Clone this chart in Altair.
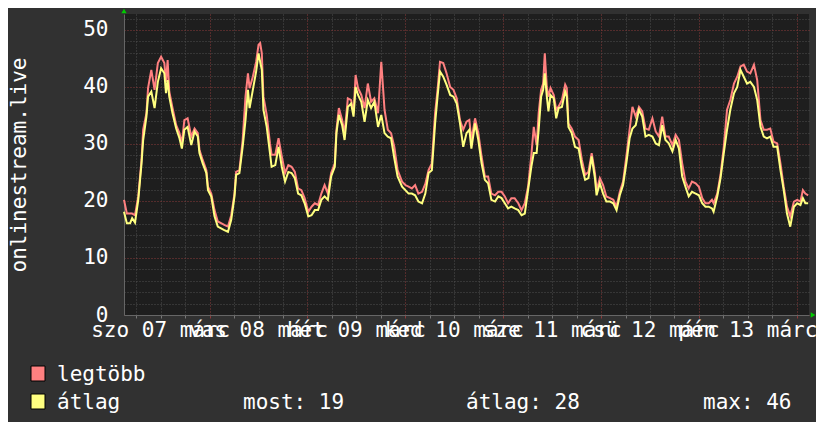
import altair as alt
import pandas as pd

# ---- data (hours since sat 07 márc 03:00) ----
hours = [0.0, 0.7, 1.5, 2.0, 2.7, 3.5, 4.3, 4.7, 5.5, 5.9, 6.7, 7.5, 8.3, 9.1, 9.9, 10.3, 10.7, 11.1,
         11.9, 12.8, 13.6, 14.2, 14.8, 15.6, 16.5, 17.3, 18.1, 18.5, 19.3, 20.2, 20.6, 21.4, 22.2, 23.0,
         23.8, 24.6, 25.5, 26.3, 27.1, 27.5, 28.3, 29.1, 29.8, 30.4, 30.8, 31.6, 32.4, 33.0, 33.4, 33.8,
         34.2, 35.0, 35.8, 36.2, 37.1, 37.9, 38.7, 39.5, 40.3, 41.1, 41.9, 42.7, 43.5, 44.3, 45.2, 46.0,
         46.8, 47.6, 48.4, 49.2, 50.0, 50.8, 51.7, 52.1, 52.7, 53.5, 54.1, 54.9, 55.7, 56.3, 56.8, 57.4,
         58.2, 59.0, 59.8, 60.6, 61.4, 62.3, 63.1, 63.9, 64.7, 65.5, 66.3, 67.1, 68.2, 69.0, 69.8, 70.6,
         71.4, 72.2, 73.1, 73.9, 74.7, 75.5, 76.3, 76.9, 77.5, 78.3, 79.1, 80.0, 80.8, 81.6, 82.4, 83.2,
         84.0, 84.7, 85.2, 86.1, 86.9, 87.7, 88.5, 89.3, 90.1, 91.0, 91.8, 92.6, 93.4, 94.2, 95.0, 95.8,
         96.7, 97.5, 98.3, 99.1, 99.9, 100.5, 101.2, 101.7, 102.3, 102.8, 103.2, 103.7, 104.1, 104.6,
         105.4, 106.0, 106.6, 107.4, 108.2, 108.6, 109.0, 109.8, 110.6, 111.5, 112.3, 113.1, 113.9,
         114.7, 115.5, 115.9, 116.7, 117.5, 118.3, 119.2, 120.0, 120.8, 121.6, 122.4, 123.2, 124.0,
         124.7, 125.5, 126.3, 127.1, 127.9, 128.7, 129.6, 130.4, 131.2, 132.0, 132.8, 133.6, 134.5,
         135.3, 136.1, 136.9, 137.7, 138.5, 139.3, 140.2, 141.0, 141.8, 142.6, 143.4, 144.2, 144.6,
         145.5, 146.3, 147.1, 147.9, 148.7, 149.6, 150.4, 151.2, 152.0, 152.8, 153.6, 154.5, 155.3,
         156.1, 156.9, 157.7, 158.5, 159.3, 160.2, 161.0, 161.8, 162.6, 163.4, 164.3, 165.1, 165.9,
         166.5, 167.1, 167.8]

atlag = [18.1, 16.1, 16.1, 17.0, 16.2, 20.2, 26.6, 30.7, 34.8, 38.3, 39.2, 36.3, 40.9, 43.3, 42.4, 38.9,
         41.2, 38.3, 35.4, 32.7, 31.0, 29.2, 32.5, 33.0, 29.8, 32.2, 31.3, 28.4, 26.6, 24.9, 21.9, 20.8,
         17.3, 15.5, 15.2, 14.9, 14.6, 16.7, 20.8, 24.6, 24.9, 29.5, 34.2, 39.5, 36.3, 39.5, 42.7, 45.9,
         44.4, 43.0, 36.0, 33.0, 28.4, 26.0, 26.3, 29.5, 26.0, 23.4, 25.1, 24.9, 24.0, 21.3, 21.0, 19.6,
         17.3, 17.5, 18.4, 18.4, 20.2, 20.8, 20.2, 24.3, 26.0, 31.9, 35.1, 33.3, 30.7, 36.5, 37.1, 34.8,
         40.0, 38.6, 37.4, 33.9, 37.7, 36.3, 37.4, 33.0, 35.1, 31.9, 31.3, 31.0, 27.5, 24.3, 22.5, 21.9,
         21.3, 21.3, 21.0, 19.9, 19.6, 21.3, 24.9, 25.4, 33.6, 38.3, 42.7, 41.8, 40.4, 38.6, 38.3, 37.1,
         33.6, 29.5, 31.9, 32.5, 29.2, 33.6, 30.7, 26.6, 23.7, 23.1, 20.2, 19.9, 20.8, 20.5, 19.6, 18.7,
         19.0, 18.7, 18.4, 17.5, 17.8, 21.9, 26.0, 28.4, 28.4, 32.5, 38.3, 39.5, 42.4, 38.3, 35.7, 38.6,
         38.0, 34.5, 36.3, 36.5, 39.2, 38.3, 33.0, 31.9, 29.5, 29.2, 26.0, 23.7, 24.0, 27.8, 24.0, 21.0,
         23.1, 21.3, 19.9, 19.9, 19.6, 18.4, 21.0, 22.8, 26.6, 31.0, 32.7, 33.3, 36.0, 34.8, 31.3, 31.6,
         31.3, 30.1, 29.8, 33.3, 30.7, 30.1, 28.7, 30.7, 29.2, 24.3, 22.5, 20.8, 21.6, 21.3, 21.0, 19.6,
         19.0, 19.0, 18.7, 18.1, 20.8, 24.0, 28.4, 32.5, 36.0, 38.9, 40.0, 43.0, 41.8, 40.6, 40.9, 40.0,
         37.7, 33.0, 31.3, 31.0, 31.3, 29.5, 29.5, 25.4, 21.9, 17.8, 15.5, 19.0, 19.6, 19.3, 20.5, 19.6,
         19.6]

legtobb = [20.2, 17.8, 17.8, 17.8, 17.5, 20.8, 27.2, 32.5, 35.4, 39.8, 43.0, 39.5, 44.2, 45.3, 44.2, 40.9,
           44.7, 39.2, 36.3, 33.3, 31.9, 30.1, 34.2, 34.5, 31.3, 32.7, 31.9, 29.0, 27.2, 25.4, 22.5, 21.3,
           18.4, 16.4, 16.1, 15.8, 15.5, 17.5, 21.3, 25.1, 25.4, 30.7, 38.3, 42.4, 39.8, 41.8, 44.4, 47.4,
           47.7, 45.9, 38.3, 35.1, 30.1, 28.1, 28.1, 31.0, 27.8, 24.9, 26.3, 26.0, 25.1, 22.2, 21.9, 20.5,
           18.1, 19.0, 19.6, 19.3, 21.3, 22.8, 21.3, 24.9, 26.6, 32.5, 36.3, 34.2, 31.9, 38.0, 37.7, 35.4,
           42.1, 39.8, 38.6, 36.3, 40.6, 37.4, 38.0, 35.4, 44.4, 36.0, 32.5, 31.9, 29.5, 25.4, 23.4, 22.8,
           22.5, 22.2, 22.8, 21.3, 21.6, 23.0, 25.4, 26.6, 35.4, 39.5, 44.4, 44.2, 42.4, 40.0, 39.5, 38.0,
           34.2, 32.5, 33.9, 34.2, 30.7, 34.5, 31.9, 27.8, 24.3, 24.3, 21.3, 21.0, 21.6, 21.6, 20.8, 19.6,
           20.5, 20.5, 19.6, 18.4, 19.6, 22.5, 28.0, 33.0, 29.8, 35.4, 39.5, 40.6, 45.9, 40.0, 38.3, 39.8,
           38.6, 36.0, 36.6, 37.7, 40.4, 39.8, 33.6, 32.7, 31.3, 30.7, 27.2, 24.6, 25.1, 28.4, 24.9, 21.9,
           24.0, 22.8, 20.8, 20.5, 20.2, 19.0, 21.6, 23.4, 27.8, 32.5, 36.5, 34.8, 36.5, 35.7, 32.7, 32.5,
           34.5, 32.2, 31.3, 34.8, 31.3, 31.3, 29.8, 31.6, 30.7, 26.6, 23.4, 22.2, 23.4, 23.1, 22.5, 20.5,
           19.6, 19.6, 20.2, 19.6, 21.3, 24.6, 29.5, 36.0, 37.7, 40.6, 41.8, 43.6, 43.9, 42.7, 42.4, 43.9,
           41.2, 34.2, 32.5, 32.5, 32.7, 30.4, 30.1, 26.6, 22.5, 19.0, 17.3, 19.9, 20.2, 19.9, 21.9, 21.3,
           21.0]

day_label_hours = [9, 33, 57, 81, 105, 129, 153]
day_labels = ["szo 07 márc", "vas 08 márc", "hét 09 márc", "ked 10 márc",
              "sze 11 márc", "csü 12 márc", "pén 13 márc"]
legend_names = ["legtöbb", "átlag"]
legend_colors = ["#ff8080", "#ffff80"]
stat_labels = ["most: 19", "átlag: 28", "max: 46"]
y_title = "onlinestream.live"

# ---- layout / style ----
W, H = 685, 301
FONT = "DejaVu Sans Mono"
FS = 21
TXT = "#ffffff"
MAJOR = "#8a3b3b"
MINOR = "#4f4f4f"

df = pd.DataFrame({"h": hours, "atlag": atlag, "legtobb": legtobb})
one = alt.Data(values=[{"k": 0}])

xs = alt.Scale(domain=[0, 168], nice=False, zero=False)
ys = alt.Scale(domain=[0, 52.8], nice=False, zero=False)

x_axis = alt.Axis(
    values=list(range(3, 168, 6)), labels=False, title=None,
    grid=True, gridDash=[1, 2], gridWidth=1,
    gridColor={"condition": {"test": "datum.value % 24 == 21", "value": MAJOR}, "value": MINOR},
    ticks=True, tickSize=3,
    tickColor={"condition": {"test": "datum.value % 24 == 21", "value": MAJOR}, "value": "#777777"},
    domainColor="#666666", domainWidth=1,
)
y_axis = alt.Axis(
    values=list(range(0, 53, 2)),
    labelExpr="datum.value % 10 == 0 ? datum.value : ''",
    labelFont=FONT, labelFontSize=FS, labelColor=TXT, labelPadding=16,
    ticks=False, domainColor="#666666",
    grid=True, gridDash=[1, 2], gridWidth=1,
    gridColor={"condition": {"test": "datum.value % 10 == 0", "value": MAJOR}, "value": MINOR},
    title=y_title, titleFont=FONT, titleFontSize=FS, titleColor=TXT, titleFontWeight="normal",
    titleAngle=270, titleX=-105, titleY=H / 2, titleAlign="center", titleBaseline="middle",
)

max_line = alt.Chart(df).mark_line(color=legend_colors[0], strokeWidth=2, interpolate="linear").encode(
    x=alt.X("h:Q", scale=xs, axis=x_axis),
    y=alt.Y("legtobb:Q", scale=ys, axis=y_axis),
)
avg_line = alt.Chart(df).mark_line(color=legend_colors[1], strokeWidth=2, interpolate="linear").encode(
    x=alt.X("h:Q", scale=xs, axis=x_axis),
    y=alt.Y("atlag:Q", scale=ys, axis=y_axis),
)

day_df = pd.DataFrame({"h": day_label_hours, "label": day_labels})
day_text = alt.Chart(day_df).mark_text(
    font=FONT, fontSize=FS, color=TXT, align="center", baseline="alphabetic"
).encode(
    x=alt.X("h:Q", scale=xs, axis=x_axis),
    y=alt.value(H + 22),
    text="label:N",
)

arrow_up = alt.Chart(one).mark_point(shape="triangle-up", filled=True, color="#00cc00", size=28, opacity=1).encode(
    x=alt.value(0), y=alt.value(-3))
arrow_right = alt.Chart(one).mark_point(shape="triangle-right", filled=True, color="#00cc00", size=28, opacity=1).encode(
    x=alt.value(W + 4), y=alt.value(H))

layers = [max_line, avg_line, day_text, arrow_up, arrow_right]

# legend rows
for i, (name, col) in enumerate(zip(legend_names, legend_colors)):
    top = 352 + 28 * i
    layers.append(alt.Chart(one).mark_rect(color=col, stroke="#000000", strokeWidth=1).encode(
        x=alt.value(-93), x2=alt.value(-79), y=alt.value(top), y2=alt.value(top + 15)))
    layers.append(alt.Chart(one).mark_text(text=name, font=FONT, fontSize=FS, color=TXT,
                                           align="left", baseline="alphabetic").encode(
        x=alt.value(-67), y=alt.value(top + 15)))

stat_x = [119, 342, 579]
for sx, s in zip(stat_x, stat_labels):
    layers.append(alt.Chart(one).mark_text(text=s, font=FONT, fontSize=FS, color=TXT,
                                           align="left", baseline="alphabetic").encode(
        x=alt.value(sx), y=alt.value(352 + 28 + 15)))

chart = alt.layer(*layers).properties(
    width=W, height=H,
    autosize=alt.AutoSizeParams(type="none"),
    padding={"left": 116, "top": 6, "right": 7, "bottom": 107},
    background="#313131",
).configure_view(fill="#1e1e1e", stroke=None)

chart.save("out.html", embed_options={"renderer": "svg", "actions": False})
